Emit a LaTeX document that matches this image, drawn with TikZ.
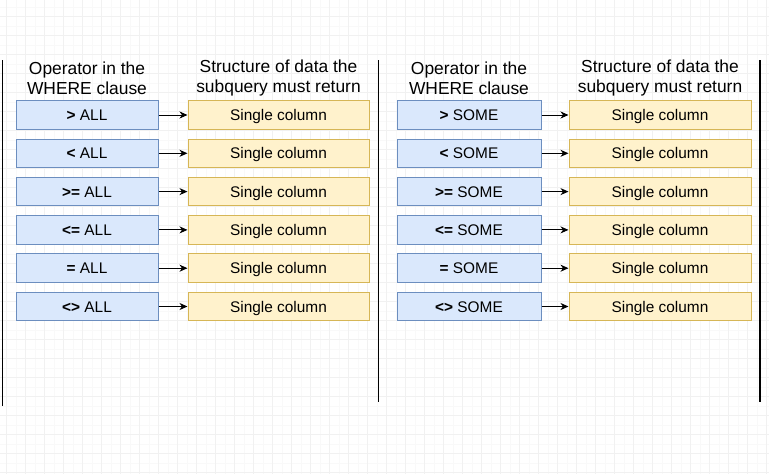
\documentclass[tikz,border=0pt]{standalone}
\usepackage{fontspec}
\setmainfont{Liberation Sans}
\usetikzlibrary{arrows.meta}
\definecolor{opfill}{HTML}{DAE8FC}
\definecolor{opdraw}{HTML}{6C8EBF}
\definecolor{dfill}{HTML}{FFF2CC}
\definecolor{ddraw}{HTML}{D6B656}
\definecolor{gridmaj}{HTML}{F1F1F1}
\definecolor{gridmin}{HTML}{F9F9F9}
\tikzset{
  boxtext/.style={inner sep=0pt, text height=14pt, text depth=3pt, font=\fontsize{15.4}{18}\selectfont},
  opbox/.style={boxtext, draw=opdraw, fill=opfill, line width=1pt, minimum height=28.5pt},
  databox/.style={boxtext, draw=ddraw, fill=dfill, line width=1pt, minimum height=28.5pt},
  header/.style={align=center, inner sep=0pt, font=\fontsize{17.4}{20}\selectfont},
  conn/.style={draw=black, line width=1pt, -{Stealth[length=8pt,width=7pt,inset=2.5pt]}},
  divider/.style={draw=black, line width=1.2pt}
}
\begin{document}
\begin{tikzpicture}[x=1pt,y=-1pt]
\useasboundingbox (0,0) rectangle (769,474);
\fill[white] (0,0) rectangle (769,474);
% faint editor grid
\foreach \gx in {-3.2,6.3,...,769} {\draw[gridmin, line width=0.6pt] (\gx,0) -- (\gx,474);}
\foreach \gy in {-2.7,6.8,...,474} {\draw[gridmin, line width=0.6pt] (0,\gy) -- (769,\gy);}
\foreach \gx in {6.3,25.3,...,769} {\draw[gridmaj, line width=0.8pt] (\gx,0) -- (\gx,474);}
\foreach \gy in {-2.7,16.3,...,474} {\draw[gridmaj, line width=0.8pt] (0,\gy) -- (769,\gy);}

% dividers
\coordinate (d1t) at (2.5,60);   \coordinate (d1b) at (2.5,406);
\coordinate (d2t) at (378.5,60); \coordinate (d2b) at (378.5,402);
\coordinate (d3t) at (760,60);   \coordinate (d3b) at (760,402);
\draw[divider] (d1t) -- (d1b);
\draw[divider] (d2t) -- (d2b);
\draw[divider] (d3t) -- (d3b);

% headers
\node[header] (h1) at (87,78) {Operator in the\\WHERE clause};
\node[header] (h2) at (278.5,78) {Structure of data the\\subquery must return};
\node[header] (h3) at (469,78) {Operator in the\\WHERE clause};
\node[header] (h4) at (660,78) {Structure of data the\\subquery must return};

% rows
\foreach \i/\op in {0/{>}, 1/{<}, 2/{>=}, 3/{<=}, 4/{=}, 5/{<>}} {
  \pgfmathsetmacro{\yy}{115+38.3*\i}
  \node[opbox, minimum width=142pt] (la\i) at (87,\yy) {\textbf{\op} ALL};
  \node[databox, minimum width=181pt] (ld\i) at (278.5,\yy) {Single column};
  \node[opbox, minimum width=144pt] (ra\i) at (469,\yy) {\textbf{\op} SOME};
  \node[databox, minimum width=182pt] (rd\i) at (660,\yy) {Single column};
  \draw[conn] (la\i) -- (ld\i);
  \draw[conn] (ra\i) -- (rd\i);
}
\end{tikzpicture}
\end{document}
